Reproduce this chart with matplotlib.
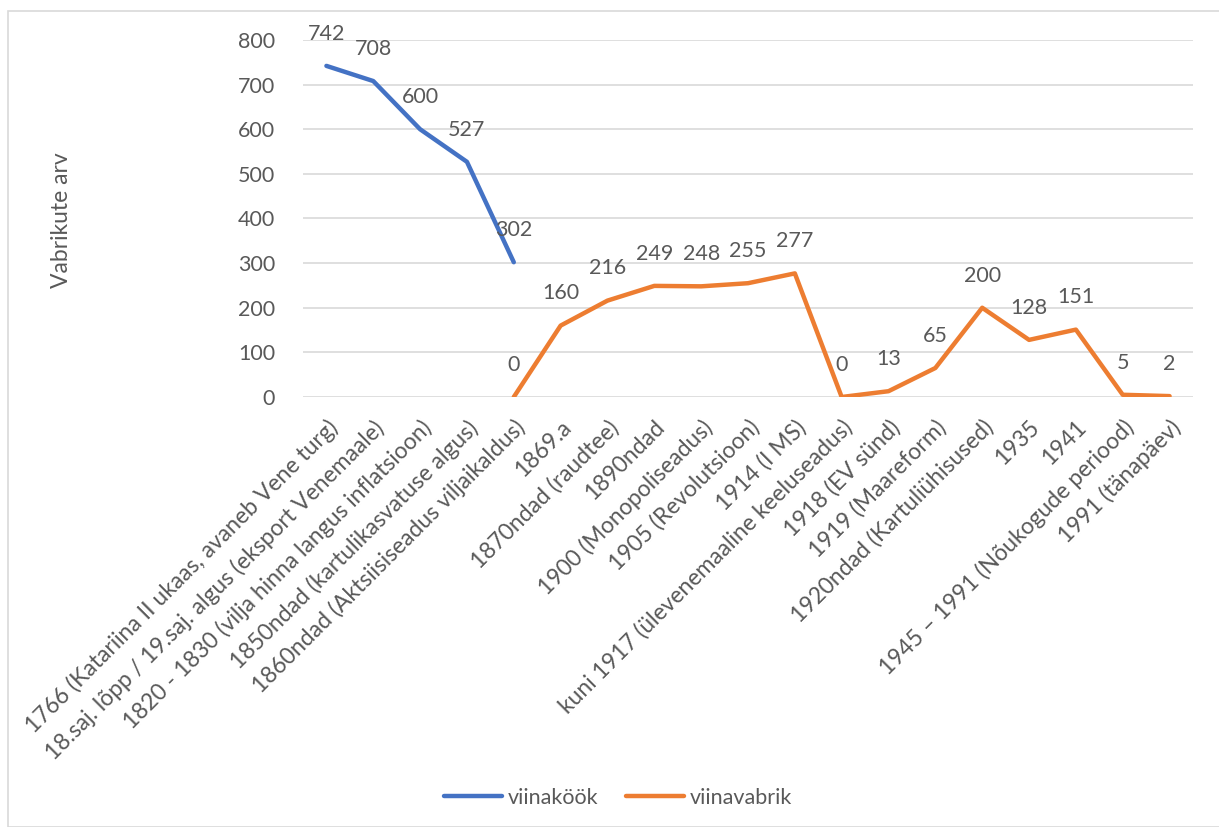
import numpy as np
import matplotlib.pyplot as plt
from matplotlib.patches import Rectangle

plt.rcParams['font.family'] = ['Lato', 'DejaVu Sans']

categories = ['1766 (Katariina II ukaas, avaneb Vene turg)',
              '18.saj. lõpp / 19.saj. algus (eksport Venemaale)',
              '1820 - 1830 (vilja hinna langus inflatsioon)',
              '1850ndad (kartulikasvatuse algus)',
              '1860ndad (Aktsiisiseadus viljaikaldus)',
              '1869.a',
              '1870ndad (raudtee)',
              '1890ndad',
              '1900 (Monopoliseadus)',
              '1905 (Revolutsioon)',
              '1914 (I MS)',
              'kuni 1917 (ülevenemaaline keeluseadus)',
              '1918 (EV sünd)',
              '1919 (Maareform)',
              '1920ndad (Kartuliühisused)',
              '1935',
              '1941',
              '1945 – 1991 (Nõukogude periood)',
              '1991 (tänapäev)']
viinakook = [742, 708, 600, 527, 302] + [np.nan] * 14
viinavabrik = [np.nan] * 4 + [0, 160, 216, 249, 248, 255, 277, 0, 13, 65, 200, 128, 151, 5, 2]

grey = '#595959'
fs = 15.5
fig = plt.figure(figsize=(12.19, 8.27), dpi=100)
fig.patches.append(Rectangle((8/1219, 0), 1.0, 1 - 11/827, transform=fig.transFigure,
                             fill=False, edgecolor='#d9d9d9', lw=1.2))
ax = fig.add_axes([303/1219, 1 - 397/827, 890/1219, 357/827])

x = np.arange(len(categories))
ax.plot(x, viinakook, color='#4472c4', lw=3.2, label='viinaköök', solid_capstyle='round')
ax.plot(x, viinavabrik, color='#ed7d31', lw=3.2, label='viinavabrik', solid_capstyle='round')

for series in (viinakook, viinavabrik):
    for i, v in enumerate(series):
        if not np.isnan(v):
            ax.annotate(str(int(v)), (i, v), xytext=(0, 16), textcoords='offset points',
                        ha='center', va='bottom', fontsize=fs, color=grey)

ax.set_xlim(-0.5, len(categories) - 0.5)
ax.set_ylim(0, 800)
ax.set_yticks(range(0, 801, 100))
ax.grid(axis='y', color='#d9d9d9', lw=1.2)
ax.set_axisbelow(True)
for s in ax.spines.values():
    s.set_visible(False)
ax.tick_params(axis='both', length=0, labelsize=fs, labelcolor=grey)
ax.tick_params(axis='y', pad=20)
ax.set_xticks(x)
ax.set_xticklabels(categories, rotation=45, ha='right', va='top', rotation_mode='anchor',
                   fontsize=16.5)
ax.tick_params(axis='x', pad=14)

fig.text(62/1219, 1 - 220/827, 'Vabrikute arv', rotation=90, ha='center', va='center',
         fontsize=16.5, color=grey)

fig.legend(loc='center', bbox_to_anchor=(0.507, 1 - 798/827), ncol=2, frameon=False,
           fontsize=fs, labelcolor=grey, handlelength=2.7, columnspacing=1.3, handletextpad=0.25)

fig.savefig('out.png', dpi=100)
